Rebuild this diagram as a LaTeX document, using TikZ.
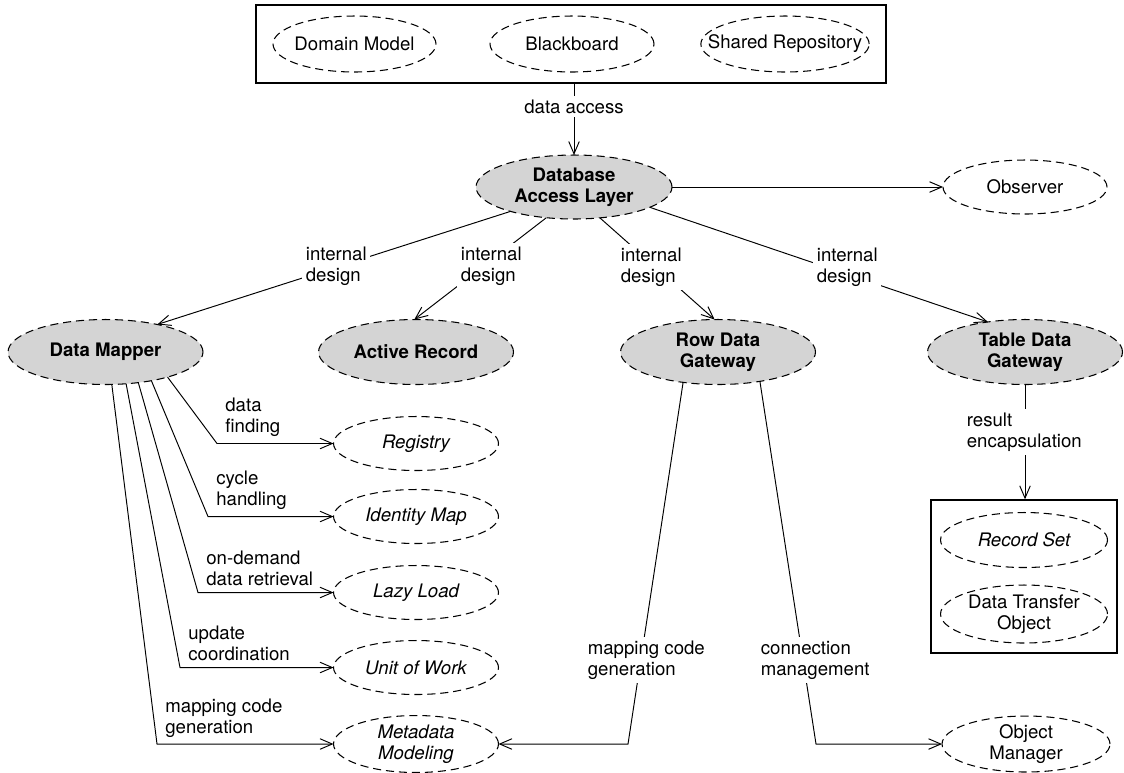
\documentclass[tikz,border=0pt]{standalone}
\usepackage{fontspec}
\setmainfont{TeX Gyre Heros}
\usetikzlibrary{arrows.meta, shapes.geometric}

\newcommand\figsize{\fontsize{10.6pt}{11.9pt}\selectfont}

\tikzset{
  oval/.style={ellipse, draw, dash pattern=on 4.6pt off 2.8pt, line width=0.6pt,
    inner xsep=-10pt, inner ysep=-3pt, outer sep=0pt, align=center, font=\figsize},
  core/.style={oval, fill=black!17, font=\figsize\bfseries, minimum width=3.9cm, minimum height=1.3cm},
  detail/.style={oval, font=\figsize\itshape, minimum width=3.3cm, minimum height=1.08cm},
  peer/.style={oval, minimum width=3.28cm, minimum height=1.12cm},
  frame/.style={draw, line width=0.8pt, inner sep=0pt},
  lbl/.style={align=left, inner sep=2pt, anchor=west, font=\figsize},
  arr/.style={-{Straight Barb[length=7pt, width=6pt]}, line width=0.55pt}
}

\begin{document}
\begin{tikzpicture}[x=0.02cm, y=-0.02cm]
  \useasboundingbox (0,0) rectangle (1124,772);

  % context patterns
  \node[frame, minimum width=12.6cm, minimum height=1.56cm] (top) at (571,44) {};
  \node[peer, minimum width=3.26cm] (dommodel) at (354.5,44) {Domain Model};
  \node[peer] (blackboard) at (572,44) {Blackboard};
  \node[peer, minimum width=3.32cm] (sharedrepo) at (785,44) {Shared Repository};

  % database access layer and its designs
  \node[core, minimum width=3.92cm, minimum height=1.28cm] (dal) at (574,187) {Database\\Access Layer};
  \node[peer, minimum height=1.08cm] (obs) at (1025,187) {Observer};
  \node[core] (dm) at (105.5,352) {Data Mapper};
  \node[core] (ar) at (416,352) {Active Record};
  \node[core] (rdg) at (718,352) {Row Data\\Gateway};
  \node[core] (tdg) at (1025,352) {Table Data\\Gateway};

  % data mapper helpers
  \node[detail] (reg) at (416,443.5) {Registry};
  \node[detail] (idm) at (416,516.5) {Identity Map};
  \node[detail] (lazy) at (416,592.5) {Lazy Load};
  \node[detail] (uow) at (416,667.5) {Unit of Work};
  \node[detail, minimum height=1.14cm] (meta) at (416,744) {Metadata\\Modeling};

  % result sets
  \node[frame, minimum width=3.72cm, minimum height=3.06cm] (rsbox) at (1024,576.5) {};
  \node[detail, minimum width=3.34cm, minimum height=1.1cm] (recset) at (1024,540) {Record Set};
  \node[peer, minimum width=3.34cm, minimum height=1.16cm] (dto) at (1024,614) {Data Transfer\\Object};
  \node[peer, minimum width=3.36cm] (om) at (1026,744) {Object\\Manager};

  % connectors
  \draw[arr] (dal.north |- top.south) -- node[fill=white, inner sep=2pt, font=\figsize, pos=0.32] (acc) {data access} (dal.north);
  \draw[arr] (dal) -- (obs);
  \draw[arr] (dal.-159) -- (dm.28);
  \draw[arr] (dal.-132) -- (ar.93);
  \draw[arr] (dal.-50) -- (rdg.96);
  \draw[arr] (dal.-15) -- (tdg.141);
  \node[lbl, fill=white] (id1) at (302,266) {internal\\design};
  \node[lbl, fill=white] (id2) at (457,266) {internal\\design};
  \node[lbl, fill=white] (id3) at (617,267) {internal\\design};
  \node[lbl, fill=white] (id4) at (813,267) {internal\\design};

  \foreach \ang/\bx/\dst/\txt in {-22/217/reg/{data\\finding}, -32/208/idm/{cycle\\handling},
      -43/198/lazy/{on-demand\\data retrieval}, -57/180/uow/{update\\coordination},
      -79/157/meta/{mapping code\\generation}}
    \draw[arr] (dm.\ang) -- (\bx,0 |- \dst.west)
      node[lbl, anchor=south west, xshift=2.5pt, yshift=1.5pt] {\txt} -- (\dst.west);

  \draw[arr] (rdg.-139) -- (628,0 |- meta.east) -- (meta.east);
  \draw[arr] (rdg.-35) -- (816,0 |- om.west) -- (om.west);
  \node[lbl, fill=white] (mcg) at (584,660) {mapping code\\generation};
  \node[lbl, fill=white] (cm) at (757,660) {connection\\management};

  \draw[arr] (tdg.south) -- (tdg.south |- rsbox.north);
  \node[lbl, fill=white] (re) at (963,432) {result\\encapsulation};
\end{tikzpicture}
\end{document}
